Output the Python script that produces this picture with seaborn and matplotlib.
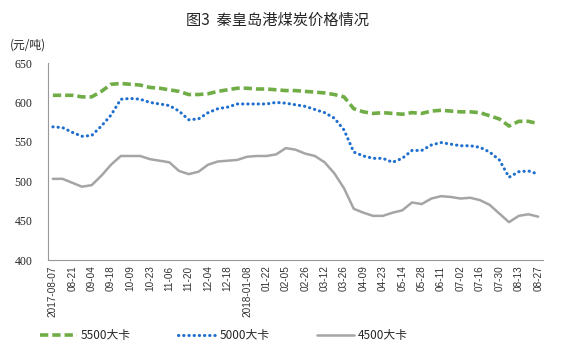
import numpy as np
import pandas as pd
import matplotlib
matplotlib.use('Agg')
import matplotlib.pyplot as plt
import seaborn as sns

# weekly prices, 2017-08-07 .. 2018-08-27
tick_labels = ['2017-08-07', '08-21', '09-04', '09-18', '10-09', '10-23', '11-06',
               '11-20', '12-04', '12-18', '2018-01-08', '01-22', '02-05', '02-26',
               '03-12', '03-26', '04-09', '04-23', '05-14', '05-28', '06-11',
               '07-02', '07-16', '07-30', '08-13', '08-27']

price_5500 = [609, 609, 609, 607, 607, 614, 623, 624, 623, 622, 619, 618, 616, 614,
              610, 610, 611, 614, 616, 618, 618, 617, 617, 616, 615, 615, 614, 613,
              612, 610, 607, 592, 588, 586, 587, 586, 585, 587, 586, 589, 590, 589,
              588, 588, 587, 583, 579, 570, 576, 576, 573]
price_5000 = [569, 568, 562, 557, 558, 570, 584, 604, 605, 604, 600, 598, 596, 589,
              578, 579, 587, 592, 594, 598, 598, 598, 598, 600, 599, 597, 595, 591,
              587, 580, 565, 537, 532, 529, 529, 524, 529, 539, 539, 546, 549, 547,
              545, 545, 543, 537, 527, 505, 512, 513, 509]
price_4500 = [503, 503, 498, 493, 495, 507, 521, 532, 532, 532, 528, 526, 524, 513,
              509, 512, 521, 525, 526, 527, 531, 532, 532, 534, 542, 540, 535, 532,
              524, 510, 491, 465, 460, 456, 456, 460, 463, 473, 471, 478, 481, 480,
              478, 479, 476, 470, 459, 448, 456, 458, 455]

series_names = ['5500大卡', '5000大卡', '4500大卡']

n = len(price_5500)
df = pd.DataFrame({
    'idx': np.tile(np.arange(n), 3),
    'price': price_5500 + price_5000 + price_4500,
    'kind': np.repeat(series_names, n),
})

sns.set_style('white')
plt.rcParams['font.family'] = ['Noto Sans CJK SC', 'DejaVu Sans']

fig = plt.figure(figsize=(5.61, 3.57), dpi=100)
ax = fig.add_axes([48 / 561, 1 - 260 / 357, 495 / 561, 197 / 357])

palette = {'5500大卡': '#70AD47', '5000大卡': '#1F6FCE', '4500大卡': '#A5A5A5'}
sns.lineplot(data=df, x='idx', y='price', hue='kind', palette=palette, ax=ax, legend=False)

lines = ax.get_lines()
lines[0].set_linewidth(2.6)
lines[0].set_dashes([2.3, 1.1])
lines[1].set_linewidth(2.2)
lines[1].set_dashes([0.1, 1.6])
lines[1].set_dash_capstyle('round')
lines[2].set_linewidth(1.8)

ax.set_xlim(-0.5, n - 0.5)
ax.set_ylim(400, 650)
ax.set_yticks(range(400, 651, 50))
ax.set_yticklabels([str(v) for v in range(400, 651, 50)],
                   family='Liberation Serif', fontsize=8.5)
ax.set_xticks(np.arange(0, n, 2))
ax.set_xticklabels(tick_labels, rotation=90, fontsize=7.2, family='Liberation Sans',
                   color='#333333')
ax.set_xticks(np.arange(0.5, n, 2), minor=True)
ax.tick_params(axis='x', which='major', length=0, pad=4)
ax.tick_params(axis='x', which='minor', direction='in', length=3, color='#999999', width=0.8)
ax.tick_params(axis='y', direction='out', length=3, color='#999999', width=0.8, pad=8)
ax.set_xlabel('')
ax.set_ylabel('')

for s in ['top', 'right']:
    ax.spines[s].set_visible(False)
for s in ['left', 'bottom']:
    ax.spines[s].set_color('#999999')
    ax.spines[s].set_linewidth(0.8)

fig.text(277 / 561, 1 - 20 / 357, '图3  秦皇岛港煤炭价格情况', ha='center', va='center',
         fontsize=11)
fig.text(28 / 561, 1 - 45 / 357, '(元/吨)', ha='center', va='center', fontsize=8.5)

leg = fig.legend(lines, series_names, loc='center left', ncol=3,
                 bbox_to_anchor=(29 / 561, 1 - 336 / 357), frameon=False,
                 fontsize=8.5, handlelength=3.2, handletextpad=0.3, columnspacing=4.0)

fig.savefig('out.png', dpi=100)
